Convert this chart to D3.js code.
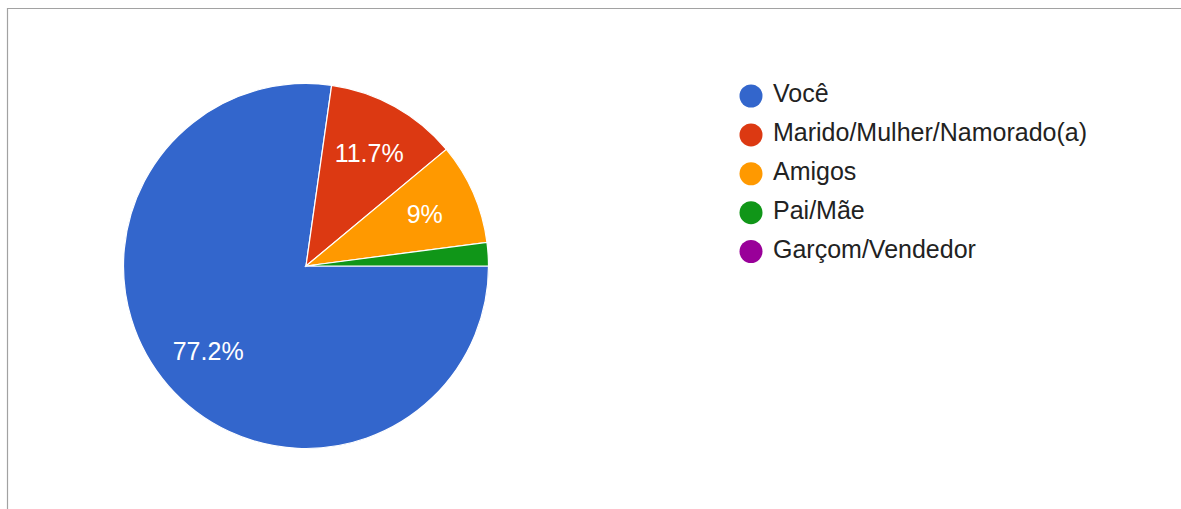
<!DOCTYPE html>
<html>
<head>
<meta charset="utf-8">
<script src="https://cdn.jsdelivr.net/npm/d3@7"></script>
<style>
  html, body { margin: 0; padding: 0; background: #fff; }
  svg { display: block; }
  text { font-family: Arial, "Liberation Sans", sans-serif; }
</style>
</head>
<body>
<svg id="chart" width="1181" height="509"></svg>
<script>
// Response categories and counts
const categories = ["Você", "Marido/Mulher/Namorado(a)", "Amigos", "Pai/Mãe", "Garçom/Vendedor"];
const counts = [112, 17, 13, 3, 0];
const colors = ["#3366cc", "#dc3912", "#ff9900", "#109618", "#990099"];

const width = 1181, height = 509;
const svg = d3.select("#chart");

// Frame lines (top and left)
svg.append("path")
  .attr("d", `M7.5,${height} V8.5 H${width}`)
  .attr("fill", "none")
  .attr("stroke", "#a2a2a2")
  .attr("stroke-width", 1.2);

const cx = 306, cy = 266, radius = 182.5;
const total = d3.sum(counts);

const pie = d3.pie()
  .sort(null)
  .value(d => d)
  .startAngle(Math.PI / 2)
  .endAngle(Math.PI / 2 + 2 * Math.PI);

const arcs = pie(counts);
const arc = d3.arc().innerRadius(0).outerRadius(radius);
const labelArc = d3.arc().innerRadius(radius * 0.71).outerRadius(radius * 0.71);

const g = svg.append("g").attr("transform", `translate(${cx},${cy})`);

g.selectAll("path.slice")
  .data(arcs)
  .join("path")
  .attr("class", "slice")
  .attr("d", arc)
  .attr("fill", (d, i) => colors[i])
  .attr("stroke", "#ffffff")
  .attr("stroke-width", d => d.value > 0 ? 1.2 : 0);

// Percentage labels for slices large enough to hold them
const fmt = v => {
  const p = Math.round(v / total * 1000) / 10;
  return (Number.isInteger(p) ? p.toFixed(0) : p.toFixed(1)) + "%";
};
g.selectAll("text.pct")
  .data(arcs.filter(d => d.value / total >= 0.05))
  .join("text")
  .attr("class", "pct")
  .attr("transform", d => `translate(${labelArc.centroid(d)})`)
  .attr("text-anchor", "middle")
  .attr("dy", "0.36em")
  .attr("fill", "#ffffff")
  .attr("font-size", 25)
  .text(d => fmt(d.value));

// Legend
const legendY = d3.scalePoint()
  .domain(categories)
  .range([102, 257.5]);

const legend = svg.append("g");
const items = legend.selectAll("g.item")
  .data(categories)
  .join("g")
  .attr("class", "item")
  .attr("transform", d => `translate(0,${legendY(d)})`);

items.append("circle")
  .attr("cx", 751)
  .attr("cy", -6)
  .attr("r", 11.5)
  .attr("fill", (d, i) => colors[i]);

items.append("text")
  .attr("x", 773)
  .attr("y", 0)
  .attr("fill", "#222222")
  .attr("font-size", 25)
  .text(d => d);
</script>
</body>
</html>
